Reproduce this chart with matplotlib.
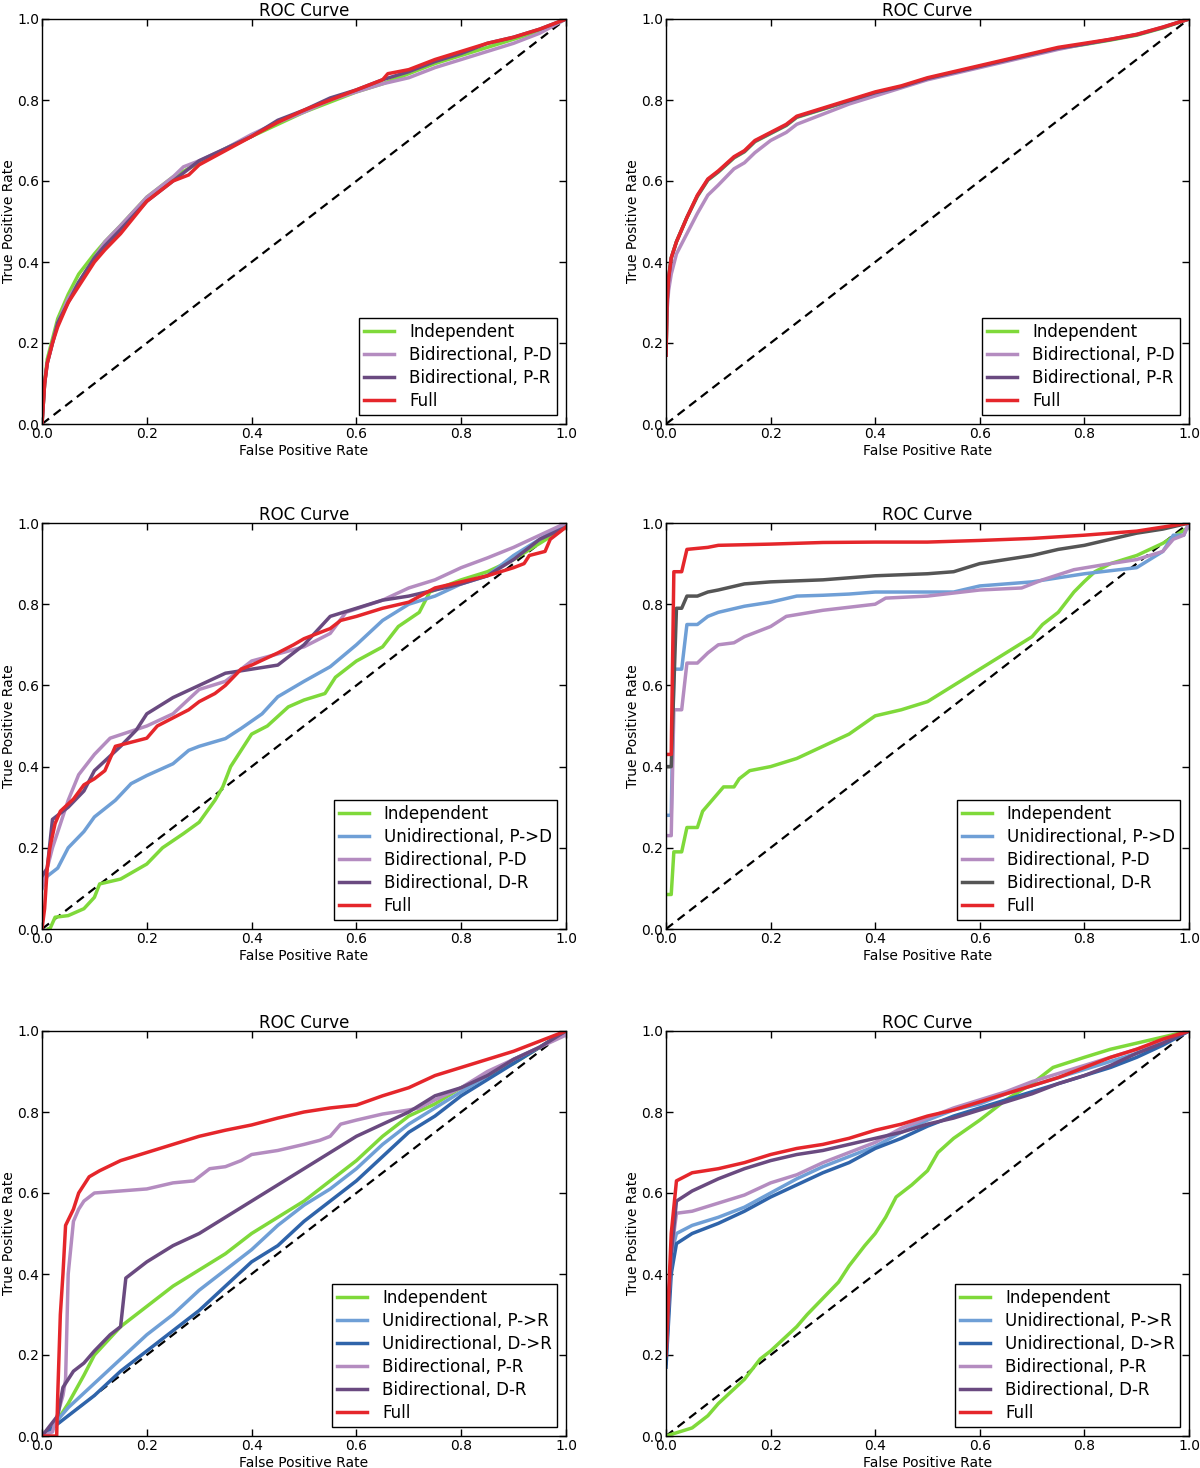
import numpy as np
import matplotlib
matplotlib.use('Agg')
import matplotlib.pyplot as plt

# colours
c_ind = '#7fd93a'
c_uni_light = '#6f9fd6'
c_uni_dark = '#2f64aa'
c_bi_light = '#b48cc0'
c_bi_dark = '#6a4a80'
c_gray = '#555555'
c_full = '#e5262b'

# ---------- panel 1 (top left) ----------
p1_ind_fpr = [0, 0.005, 0.01, 0.02, 0.03, 0.05, 0.07, 0.1, 0.12, 0.15, 0.2, 0.25, 0.3, 0.35, 0.4, 0.45, 0.5, 0.55, 0.6, 0.65, 0.7, 0.75, 0.8, 0.85, 0.9, 0.95, 1.0]
p1_ind_tpr = [0, 0.1, 0.16, 0.21, 0.26, 0.32, 0.37, 0.42, 0.45, 0.49, 0.56, 0.61, 0.645, 0.68, 0.71, 0.74, 0.77, 0.795, 0.82, 0.84, 0.865, 0.89, 0.91, 0.93, 0.95, 0.97, 1.0]
p1_bipd_fpr = [0, 0.005, 0.01, 0.02, 0.03, 0.05, 0.07, 0.1, 0.12, 0.15, 0.2, 0.25, 0.27, 0.3, 0.35, 0.4, 0.45, 0.5, 0.55, 0.6, 0.65, 0.7, 0.75, 0.8, 0.85, 0.9, 0.95, 1.0]
p1_bipd_tpr = [0, 0.1, 0.15, 0.2, 0.25, 0.31, 0.35, 0.41, 0.45, 0.49, 0.56, 0.61, 0.635, 0.65, 0.68, 0.715, 0.745, 0.77, 0.8, 0.82, 0.84, 0.855, 0.88, 0.9, 0.92, 0.94, 0.965, 1.0]
p1_bipr_fpr = [0, 0.005, 0.01, 0.02, 0.03, 0.05, 0.07, 0.1, 0.12, 0.15, 0.2, 0.25, 0.3, 0.35, 0.4, 0.45, 0.5, 0.55, 0.6, 0.65, 0.7, 0.75, 0.8, 0.85, 0.9, 0.95, 1.0]
p1_bipr_tpr = [0, 0.1, 0.15, 0.2, 0.25, 0.3, 0.35, 0.41, 0.44, 0.48, 0.55, 0.6, 0.65, 0.68, 0.71, 0.75, 0.775, 0.805, 0.825, 0.85, 0.87, 0.895, 0.915, 0.94, 0.955, 0.975, 1.0]
p1_full_fpr = [0, 0.005, 0.01, 0.02, 0.03, 0.04, 0.05, 0.07, 0.1, 0.12, 0.15, 0.2, 0.25, 0.28, 0.3, 0.35, 0.4, 0.45, 0.5, 0.55, 0.6, 0.65, 0.66, 0.7, 0.75, 0.8, 0.85, 0.9, 0.95, 1.0]
p1_full_tpr = [0, 0.1, 0.15, 0.2, 0.24, 0.27, 0.3, 0.34, 0.4, 0.43, 0.47, 0.55, 0.6, 0.615, 0.64, 0.675, 0.71, 0.745, 0.775, 0.8, 0.825, 0.85, 0.865, 0.875, 0.9, 0.92, 0.94, 0.955, 0.975, 1.0]

# ---------- panel 2 (top right) ----------
p2_fpr = [0, 0.002, 0.005, 0.01, 0.02, 0.04, 0.06, 0.08, 0.1, 0.13, 0.15, 0.17, 0.2, 0.23, 0.25, 0.3, 0.35, 0.4, 0.45, 0.5, 0.55, 0.6, 0.65, 0.7, 0.75, 0.8, 0.85, 0.9, 0.95, 1.0]
p2_ind_tpr = [0.17, 0.3, 0.36, 0.41, 0.45, 0.51, 0.562, 0.602, 0.622, 0.657, 0.672, 0.697, 0.717, 0.737, 0.757, 0.777, 0.797, 0.817, 0.832, 0.852, 0.867, 0.882, 0.897, 0.912, 0.927, 0.937, 0.948, 0.96, 0.978, 1.0]
p2_bipd_tpr = [0.17, 0.28, 0.33, 0.37, 0.42, 0.47, 0.52, 0.565, 0.59, 0.63, 0.645, 0.67, 0.7, 0.72, 0.74, 0.765, 0.79, 0.81, 0.83, 0.85, 0.865, 0.88, 0.895, 0.91, 0.925, 0.938, 0.95, 0.962, 0.98, 1.0]
p2_bipr_tpr = [0.17, 0.3, 0.36, 0.41, 0.45, 0.51, 0.563, 0.603, 0.623, 0.658, 0.673, 0.698, 0.718, 0.738, 0.758, 0.778, 0.798, 0.818, 0.833, 0.853, 0.868, 0.883, 0.898, 0.913, 0.928, 0.938, 0.949, 0.961, 0.979, 1.0]
p2_full_tpr = [0.17, 0.3, 0.36, 0.41, 0.45, 0.51, 0.565, 0.605, 0.625, 0.66, 0.675, 0.7, 0.72, 0.74, 0.76, 0.78, 0.8, 0.82, 0.835, 0.855, 0.87, 0.885, 0.9, 0.915, 0.93, 0.94, 0.95, 0.962, 0.98, 1.0]

# ---------- panel 3 (middle left) ----------
p3_ind_fpr = [0.012, 0.015, 0.025, 0.05, 0.08, 0.1, 0.11, 0.15, 0.2, 0.23, 0.27, 0.3, 0.33, 0.345, 0.36, 0.38, 0.4, 0.43, 0.47, 0.5, 0.54, 0.56, 0.6, 0.65, 0.68, 0.72, 0.74, 0.8, 0.85, 0.9, 0.95, 1.0]
p3_ind_tpr = [0, 0.0, 0.029, 0.033, 0.05, 0.078, 0.111, 0.123, 0.16, 0.2, 0.235, 0.263, 0.317, 0.35, 0.4, 0.44, 0.48, 0.5, 0.547, 0.564, 0.58, 0.62, 0.66, 0.695, 0.745, 0.78, 0.83, 0.86, 0.88, 0.91, 0.95, 0.99]
p3_uni_fpr = [0, 0.01, 0.03, 0.05, 0.08, 0.1, 0.14, 0.17, 0.2, 0.25, 0.28, 0.3, 0.35, 0.38, 0.42, 0.45, 0.5, 0.55, 0.6, 0.65, 0.7, 0.75, 0.8, 0.85, 0.9, 0.95, 1.0]
p3_uni_tpr = [0.1, 0.13, 0.15, 0.2, 0.24, 0.276, 0.317, 0.358, 0.378, 0.407, 0.44, 0.45, 0.469, 0.494, 0.53, 0.572, 0.61, 0.646, 0.7, 0.76, 0.8, 0.82, 0.85, 0.87, 0.92, 0.96, 1.0]
p3_bipd_fpr = [0, 0.01, 0.02, 0.05, 0.07, 0.1, 0.13, 0.2, 0.25, 0.3, 0.35, 0.4, 0.5, 0.55, 0.58, 0.65, 0.7, 0.75, 0.8, 0.85, 0.9, 0.95, 1.0]
p3_bipd_tpr = [0.1, 0.15, 0.2, 0.317, 0.38, 0.43, 0.47, 0.5, 0.53, 0.59, 0.61, 0.66, 0.695, 0.728, 0.78, 0.81, 0.84, 0.86, 0.89, 0.914, 0.94, 0.97, 1.0]
p3_bidr_fpr = [0, 0.01, 0.02, 0.05, 0.08, 0.1, 0.15, 0.18, 0.2, 0.25, 0.3, 0.35, 0.4, 0.45, 0.5, 0.55, 0.6, 0.65, 0.7, 0.8, 0.85, 0.9, 0.95, 1.0]
p3_bidr_tpr = [0.13, 0.15, 0.27, 0.3, 0.34, 0.39, 0.45, 0.49, 0.53, 0.57, 0.6, 0.63, 0.64, 0.65, 0.7, 0.77, 0.79, 0.81, 0.82, 0.85, 0.87, 0.91, 0.96, 0.99]
p3_full_fpr = [0, 0.005, 0.01, 0.015, 0.025, 0.035, 0.06, 0.08, 0.1, 0.12, 0.14, 0.17, 0.2, 0.22, 0.25, 0.28, 0.3, 0.33, 0.35, 0.38, 0.4, 0.45, 0.48, 0.5, 0.55, 0.57, 0.6, 0.65, 0.7, 0.75, 0.8, 0.85, 0.9, 0.92, 0.93, 0.96, 0.97, 1.0]
p3_full_tpr = [0, 0.05, 0.15, 0.2, 0.26, 0.29, 0.32, 0.355, 0.37, 0.39, 0.45, 0.46, 0.47, 0.5, 0.52, 0.54, 0.56, 0.58, 0.6, 0.64, 0.65, 0.68, 0.7, 0.715, 0.74, 0.76, 0.77, 0.79, 0.805, 0.84, 0.855, 0.87, 0.89, 0.9, 0.92, 0.93, 0.96, 0.99]

# ---------- panel 4 (middle right) ----------
p4_ind_fpr = [0, 0.01, 0.015, 0.03, 0.04, 0.06, 0.07, 0.09, 0.11, 0.13, 0.14, 0.16, 0.2, 0.25, 0.3, 0.35, 0.4, 0.45, 0.5, 0.55, 0.6, 0.65, 0.7, 0.72, 0.75, 0.78, 0.8, 0.82, 0.85, 0.9, 0.95, 1.0]
p4_ind_tpr = [0.085, 0.085, 0.19, 0.19, 0.25, 0.25, 0.29, 0.32, 0.35, 0.35, 0.37, 0.39, 0.4, 0.42, 0.45, 0.48, 0.525, 0.54, 0.56, 0.6, 0.64, 0.68, 0.72, 0.75, 0.78, 0.83, 0.856, 0.88, 0.9, 0.92, 0.95, 0.99]
p4_uni_fpr = [0, 0.01, 0.015, 0.03, 0.04, 0.06, 0.08, 0.1, 0.15, 0.2, 0.25, 0.3, 0.35, 0.4, 0.5, 0.55, 0.6, 0.7, 0.8, 0.9, 0.95, 0.97, 0.99, 1.0]
p4_uni_tpr = [0.28, 0.28, 0.64, 0.64, 0.75, 0.75, 0.77, 0.78, 0.795, 0.805, 0.82, 0.822, 0.825, 0.83, 0.83, 0.83, 0.845, 0.855, 0.875, 0.89, 0.93, 0.97, 0.97, 1.0]
p4_bipd_fpr = [0, 0.01, 0.015, 0.03, 0.04, 0.06, 0.08, 0.1, 0.13, 0.15, 0.2, 0.23, 0.3, 0.4, 0.42, 0.5, 0.6, 0.68, 0.72, 0.78, 0.85, 0.9, 0.95, 0.97, 0.99, 1.0]
p4_bipd_tpr = [0.23, 0.23, 0.54, 0.54, 0.655, 0.655, 0.68, 0.7, 0.705, 0.72, 0.745, 0.77, 0.785, 0.8, 0.815, 0.82, 0.835, 0.84, 0.86, 0.885, 0.9, 0.91, 0.93, 0.96, 0.97, 1.0]
p4_bidr_fpr = [0, 0.01, 0.02, 0.03, 0.04, 0.06, 0.08, 0.1, 0.15, 0.2, 0.3, 0.4, 0.5, 0.55, 0.6, 0.65, 0.7, 0.75, 0.8, 0.85, 0.9, 0.95, 1.0]
p4_bidr_tpr = [0.4, 0.4, 0.79, 0.79, 0.82, 0.82, 0.83, 0.835, 0.85, 0.855, 0.86, 0.87, 0.875, 0.88, 0.9, 0.91, 0.92, 0.935, 0.945, 0.96, 0.975, 0.985, 1.0]
p4_full_fpr = [0, 0.01, 0.015, 0.03, 0.04, 0.08, 0.1, 0.2, 0.3, 0.4, 0.5, 0.6, 0.7, 0.8, 0.9, 0.95, 1.0]
p4_full_tpr = [0.43, 0.43, 0.88, 0.88, 0.935, 0.94, 0.945, 0.948, 0.952, 0.953, 0.953, 0.957, 0.962, 0.97, 0.98, 0.99, 1.0]

# ---------- panel 5 (bottom left) ----------
p5_ind_fpr = [0, 0.02, 0.05, 0.08, 0.1, 0.15, 0.2, 0.25, 0.3, 0.35, 0.4, 0.45, 0.5, 0.55, 0.6, 0.65, 0.7, 0.75, 0.8, 0.85, 0.9, 0.95, 1.0]
p5_ind_tpr = [0, 0.02, 0.08, 0.15, 0.2, 0.27, 0.32, 0.37, 0.41, 0.45, 0.5, 0.54, 0.58, 0.63, 0.68, 0.74, 0.79, 0.82, 0.86, 0.89, 0.92, 0.96, 1.0]
p5_unipr_fpr = [0, 0.03, 0.05, 0.1, 0.15, 0.2, 0.25, 0.3, 0.35, 0.4, 0.45, 0.5, 0.55, 0.6, 0.65, 0.7, 0.75, 0.8, 0.85, 0.9, 0.95, 1.0]
p5_unipr_tpr = [0, 0.04, 0.07, 0.13, 0.19, 0.25, 0.3, 0.36, 0.41, 0.46, 0.52, 0.57, 0.61, 0.66, 0.72, 0.77, 0.81, 0.85, 0.89, 0.93, 0.96, 1.0]
p5_unidr_fpr = [0, 0.03, 0.05, 0.1, 0.15, 0.2, 0.25, 0.3, 0.35, 0.4, 0.45, 0.5, 0.55, 0.6, 0.65, 0.7, 0.75, 0.8, 0.85, 0.9, 0.95, 1.0]
p5_unidr_tpr = [0, 0.03, 0.05, 0.1, 0.16, 0.21, 0.26, 0.31, 0.37, 0.43, 0.47, 0.53, 0.58, 0.63, 0.69, 0.75, 0.79, 0.84, 0.88, 0.92, 0.96, 1.0]
p5_bipr_fpr = [0, 0.02, 0.04, 0.045, 0.05, 0.06, 0.07, 0.08, 0.1, 0.15, 0.2, 0.25, 0.29, 0.3, 0.32, 0.35, 0.38, 0.4, 0.45, 0.5, 0.53, 0.55, 0.57, 0.6, 0.65, 0.7, 0.72, 0.75, 0.8, 0.85, 0.9, 0.95, 1.0]
p5_bipr_tpr = [0, 0.01, 0.1, 0.14, 0.4, 0.53, 0.56, 0.58, 0.6, 0.605, 0.61, 0.625, 0.63, 0.64, 0.66, 0.665, 0.68, 0.695, 0.705, 0.72, 0.73, 0.74, 0.77, 0.78, 0.795, 0.805, 0.81, 0.83, 0.86, 0.9, 0.93, 0.96, 0.99]
p5_bidr_fpr = [0, 0.03, 0.04, 0.06, 0.08, 0.1, 0.13, 0.15, 0.155, 0.16, 0.18, 0.2, 0.25, 0.3, 0.35, 0.4, 0.45, 0.5, 0.55, 0.6, 0.65, 0.7, 0.75, 0.8, 0.85, 0.9, 0.95, 1.0]
p5_bidr_tpr = [0, 0.05, 0.12, 0.16, 0.18, 0.21, 0.25, 0.27, 0.33, 0.39, 0.41, 0.43, 0.47, 0.5, 0.54, 0.58, 0.62, 0.66, 0.7, 0.74, 0.77, 0.8, 0.84, 0.86, 0.89, 0.93, 0.96, 1.0]
p5_full_fpr = [0, 0.028, 0.03, 0.035, 0.04, 0.045, 0.06, 0.07, 0.09, 0.11, 0.15, 0.2, 0.25, 0.3, 0.35, 0.4, 0.45, 0.5, 0.55, 0.6, 0.65, 0.7, 0.75, 0.8, 0.85, 0.9, 0.95, 1.0]
p5_full_tpr = [0, 0, 0.1, 0.3, 0.4, 0.52, 0.56, 0.6, 0.64, 0.655, 0.68, 0.7, 0.72, 0.74, 0.755, 0.768, 0.785, 0.8, 0.81, 0.817, 0.84, 0.86, 0.89, 0.91, 0.93, 0.95, 0.975, 1.0]

# ---------- panel 6 (bottom right) ----------
p6_ind_fpr = [0, 0.05, 0.08, 0.1, 0.15, 0.18, 0.2, 0.25, 0.27, 0.3, 0.33, 0.35, 0.38, 0.4, 0.42, 0.44, 0.47, 0.5, 0.52, 0.55, 0.6, 0.65, 0.7, 0.74, 0.8, 0.85, 0.9, 0.95, 1.0]
p6_ind_tpr = [0, 0.02, 0.05, 0.08, 0.14, 0.19, 0.21, 0.27, 0.3, 0.34, 0.38, 0.42, 0.47, 0.5, 0.54, 0.59, 0.62, 0.655, 0.7, 0.735, 0.78, 0.83, 0.87, 0.91, 0.935, 0.955, 0.97, 0.985, 1.0]
p6_fpr = [0, 0.01, 0.02, 0.05, 0.1, 0.15, 0.2, 0.25, 0.3, 0.35, 0.4, 0.45, 0.5, 0.55, 0.6, 0.65, 0.7, 0.75, 0.8, 0.85, 0.9, 0.95, 1.0]
p6_unipr_tpr = [0.18, 0.45, 0.5, 0.52, 0.54, 0.565, 0.6, 0.635, 0.665, 0.69, 0.715, 0.75, 0.78, 0.805, 0.82, 0.845, 0.865, 0.885, 0.905, 0.925, 0.945, 0.97, 1.0]
p6_unidr_tpr = [0.17, 0.4, 0.475, 0.5, 0.525, 0.555, 0.59, 0.62, 0.65, 0.675, 0.71, 0.735, 0.765, 0.79, 0.81, 0.83, 0.85, 0.87, 0.89, 0.91, 0.935, 0.965, 1.0]
p6_bipr_tpr = [0.2, 0.45, 0.55, 0.555, 0.575, 0.595, 0.625, 0.645, 0.675, 0.7, 0.725, 0.76, 0.785, 0.81, 0.83, 0.85, 0.875, 0.895, 0.915, 0.935, 0.955, 0.975, 1.0]
p6_bidr_tpr = [0.2, 0.45, 0.58, 0.605, 0.635, 0.66, 0.68, 0.695, 0.705, 0.72, 0.735, 0.75, 0.77, 0.785, 0.805, 0.825, 0.845, 0.87, 0.89, 0.915, 0.945, 0.97, 1.0]
p6_full_tpr = [0.2, 0.5, 0.63, 0.65, 0.66, 0.675, 0.695, 0.71, 0.72, 0.735, 0.755, 0.77, 0.79, 0.805, 0.825, 0.845, 0.865, 0.885, 0.91, 0.935, 0.955, 0.98, 1.0]

ticks = [0.0, 0.2, 0.4, 0.6, 0.8, 1.0]


def draw_panel(ax, curves):
    ax.plot([0, 1], [0, 1], 'k--', lw=1.6, dashes=(4, 2.6))
    for fpr, tpr, label, color in curves:
        ax.plot(fpr, tpr, color=color, lw=2.5, label=label)
    ax.set_xlim(0, 1)
    ax.set_ylim(0, 1)
    ax.set_xticks(ticks)
    ax.set_yticks(ticks)
    ax.set_xticklabels(['%.1f' % t for t in ticks])
    ax.set_yticklabels(['%.1f' % t for t in ticks])
    ax.tick_params(direction='in', top=True, right=True, length=5, width=1,
                   labelsize=10, pad=2)
    for s in ax.spines.values():
        s.set_linewidth(1.0)
    ax.set_xlabel('False Positive Rate', fontsize=10, labelpad=2)
    ax.set_ylabel('True Positive Rate', fontsize=10, labelpad=1)
    ax.set_title('ROC Curve', fontsize=12, pad=2)
    leg = ax.legend(loc='lower right', fontsize=12, fancybox=False, framealpha=1,
                    edgecolor='black', handlelength=1.8, handletextpad=0.9,
                    borderpad=0.3, labelspacing=0.3, borderaxespad=0.55)
    leg.get_frame().set_linewidth(1.0)


fig = plt.figure(figsize=(12, 14.68), dpi=100)
W, H = 1200.0, 1468.0
cols = [(42, 566), (666, 1189)]
rows = [(19, 424), (523, 929), (1031, 1436)]
axes = []
for (top, bot) in rows:
    for (l, r) in cols:
        axes.append(fig.add_axes([l / W, 1 - bot / H, (r - l) / W, (bot - top) / H]))

draw_panel(axes[0], [
    (p1_ind_fpr, p1_ind_tpr, 'Independent', c_ind),
    (p1_bipd_fpr, p1_bipd_tpr, 'Bidirectional, P-D', c_bi_light),
    (p1_bipr_fpr, p1_bipr_tpr, 'Bidirectional, P-R', c_bi_dark),
    (p1_full_fpr, p1_full_tpr, 'Full', c_full),
])
draw_panel(axes[1], [
    (p2_fpr, p2_ind_tpr, 'Independent', c_ind),
    (p2_fpr, p2_bipd_tpr, 'Bidirectional, P-D', c_bi_light),
    (p2_fpr, p2_bipr_tpr, 'Bidirectional, P-R', c_bi_dark),
    (p2_fpr, p2_full_tpr, 'Full', c_full),
])
draw_panel(axes[2], [
    (p3_ind_fpr, p3_ind_tpr, 'Independent', c_ind),
    (p3_uni_fpr, p3_uni_tpr, 'Unidirectional, P->D', c_uni_light),
    (p3_bipd_fpr, p3_bipd_tpr, 'Bidirectional, P-D', c_bi_light),
    (p3_bidr_fpr, p3_bidr_tpr, 'Bidirectional, D-R', c_bi_dark),
    (p3_full_fpr, p3_full_tpr, 'Full', c_full),
])
draw_panel(axes[3], [
    (p4_ind_fpr, p4_ind_tpr, 'Independent', c_ind),
    (p4_uni_fpr, p4_uni_tpr, 'Unidirectional, P->D', c_uni_light),
    (p4_bipd_fpr, p4_bipd_tpr, 'Bidirectional, P-D', c_bi_light),
    (p4_bidr_fpr, p4_bidr_tpr, 'Bidirectional, D-R', c_gray),
    (p4_full_fpr, p4_full_tpr, 'Full', c_full),
])
draw_panel(axes[4], [
    (p5_ind_fpr, p5_ind_tpr, 'Independent', c_ind),
    (p5_unipr_fpr, p5_unipr_tpr, 'Unidirectional, P->R', c_uni_light),
    (p5_unidr_fpr, p5_unidr_tpr, 'Unidirectional, D->R', c_uni_dark),
    (p5_bipr_fpr, p5_bipr_tpr, 'Bidirectional, P-R', c_bi_light),
    (p5_bidr_fpr, p5_bidr_tpr, 'Bidirectional, D-R', c_bi_dark),
    (p5_full_fpr, p5_full_tpr, 'Full', c_full),
])
draw_panel(axes[5], [
    (p6_ind_fpr, p6_ind_tpr, 'Independent', c_ind),
    (p6_fpr, p6_unipr_tpr, 'Unidirectional, P->R', c_uni_light),
    (p6_fpr, p6_unidr_tpr, 'Unidirectional, D->R', c_uni_dark),
    (p6_fpr, p6_bipr_tpr, 'Bidirectional, P-R', c_bi_light),
    (p6_fpr, p6_bidr_tpr, 'Bidirectional, D-R', c_bi_dark),
    (p6_fpr, p6_full_tpr, 'Full', c_full),
])

fig.savefig('out.png', dpi=100)
